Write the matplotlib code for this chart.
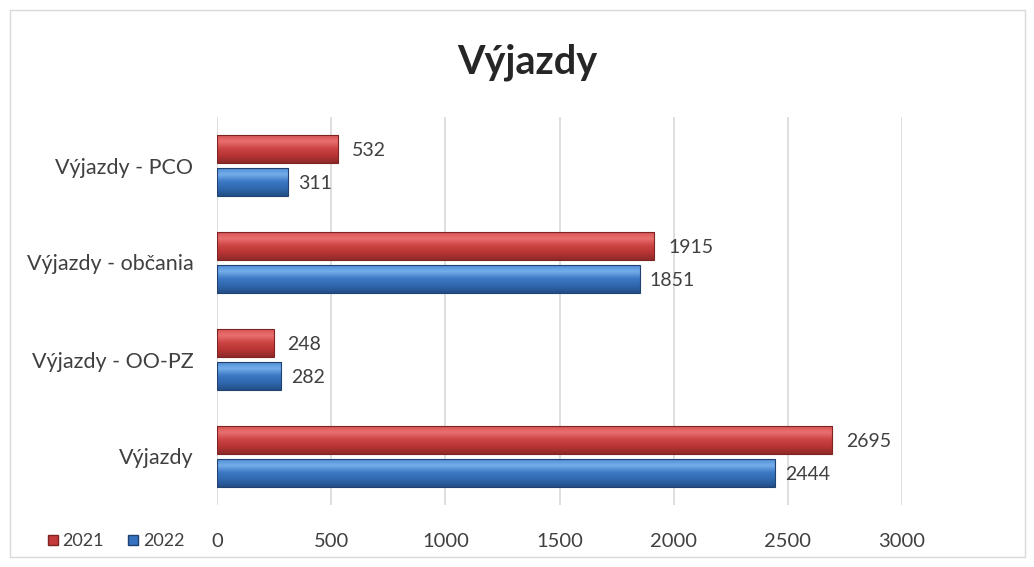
import matplotlib
matplotlib.use("Agg")
import matplotlib.pyplot as plt
import numpy as np
from matplotlib.patches import Rectangle
from matplotlib.lines import Line2D
from matplotlib.colors import LinearSegmentedColormap

categories = ["Výjazdy", "Výjazdy - OO-PZ", "Výjazdy - občania", "Výjazdy - PCO"]
values_2021 = [2695, 248, 1915, 532]
values_2022 = [2444, 282, 1851, 311]
series_labels = ["2021", "2022"]
xticks = [0, 500, 1000, 1500, 2000, 2500, 3000]

plt.rcParams['font.family'] = ['Lato', 'DejaVu Sans']

fig = plt.figure(figsize=(10.34, 5.67), dpi=100)
ax = fig.add_axes([217/1034, 1-505/567, (902-217)/1034, (505-117)/567])

y = np.arange(len(categories))
h = 0.29
red_cmap = LinearSegmentedColormap.from_list("r", ["#8E2A2A", "#B83434", "#CC4444", "#E97070", "#D65050"])
blue_cmap = LinearSegmentedColormap.from_list("b", ["#234E86", "#2F68AE", "#3C78C4", "#74AEEA", "#4A88D2"])
red_edge, blue_edge = "#7E2222", "#1F4270"

y_red = y + 0.17
y_blue = y - 0.17
grad = np.linspace(0, 1, 64).reshape(-1, 1)

def draw_bars(ys, vals, cmap, edge):
    bars = ax.barh(ys, vals, height=h, color="none", edgecolor=edge, linewidth=0.8, zorder=4)
    for b in bars:
        x0, y0 = b.get_x(), b.get_y()
        w, hh = b.get_width(), b.get_height()
        im = ax.imshow(grad, cmap=cmap, extent=[x0, x0 + w, y0, y0 + hh], origin="lower",
                       aspect="auto", zorder=3, interpolation="bilinear")
        im.set_clip_path(b)
    return bars

draw_bars(y_red, values_2021, red_cmap, red_edge)
draw_bars(y_blue, values_2022, blue_cmap, blue_edge)

for yi, v in zip(y_red, values_2021):
    ax.annotate(str(v), (v, yi), xytext=(10, -1), textcoords="offset points",
                va="center", ha="left", fontsize=14, color="#404040")
for yi, v in zip(y_blue, values_2022):
    ax.annotate(str(v), (v, yi), xytext=(7, -1), textcoords="offset points",
                va="center", ha="left", fontsize=14, color="#404040")

ax.set_xlim(0, 3000)
ax.set_ylim(-0.5, len(categories) - 0.5)
ax.set_xticks(xticks)
ax.set_xticklabels([str(t) for t in xticks], fontsize=14.5, color="#404040")
ax.set_yticks(y)
ax.set_yticklabels(categories, fontsize=15.5, color="#404040")
ax.tick_params(axis='x', length=0, pad=20)
ax.tick_params(axis='y', length=0, pad=17)
ax.grid(axis='x', color="#D9D9D9", linewidth=1.2, zorder=0)
ax.set_axisbelow(True)
for s in ax.spines.values():
    s.set_visible(False)

fig.text(527/1034, 1-62/567, "Výjazdy", ha="center", va="center",
         fontsize=28.5, fontweight="bold", color="#262626")

handles = [Line2D([], [], marker="s", linestyle="none", markersize=7,
                  markerfacecolor="#C43A3A", markeredgecolor=red_edge),
           Line2D([], [], marker="s", linestyle="none", markersize=7,
                  markerfacecolor="#3672C0", markeredgecolor=blue_edge)]
fig.legend(handles, series_labels, loc="center left", bbox_to_anchor=(31/1034, 1-541/567),
           ncol=2, frameon=False, fontsize=13, handletextpad=0.25, columnspacing=1.3,
           labelcolor="#404040", handlelength=0.6)

fig.patches.append(Rectangle((10/1034, 10/567), 1015/1034, 547/567, transform=fig.transFigure,
                             fill=False, edgecolor="#D9D9D9", linewidth=1))

fig.savefig("out.png", dpi=100)
